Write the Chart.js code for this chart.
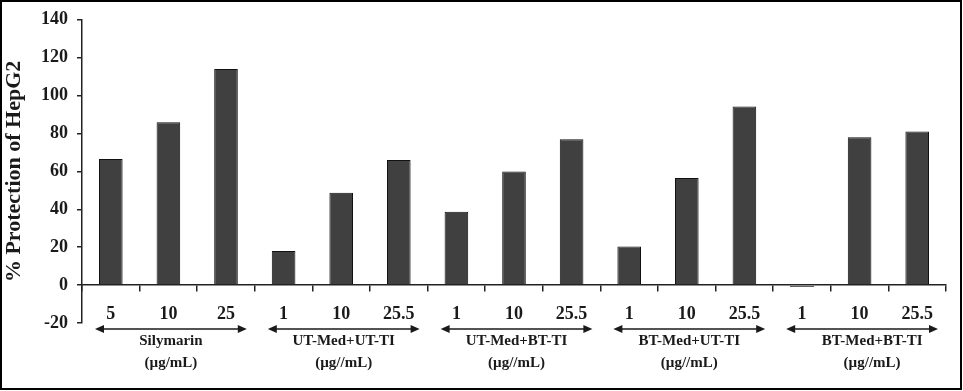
<!DOCTYPE html>
<html>
<head>
<meta charset="utf-8">
<script src="https://cdn.jsdelivr.net/npm/chart.js@4/dist/chart.umd.min.js"></script>
<style>
body { margin: 0; background: #fff; }
</style>
</head>
<body>
<canvas id="myChart" width="963" height="391"></canvas>
<script>
// doses for each bar, in order of the groups
const doses = ['5', '10', '25', '1', '10', '25.5', '1', '10', '25.5', '1', '10', '25.5', '1', '10', '25.5'];
// % protection of HepG2
const protection = [66.5, 86, 114, 18, 48.7, 66, 38.7, 60, 77, 20.4, 56.5, 94.3, -1, 78, 81];

// groups under the x axis
const groupNames = ['Silymarin', 'UT-Med+UT-TI', 'UT-Med+BT-TI', 'BT-Med+UT-TI', 'BT-Med+BT-TI'];
const groupUnits = ['(µg/mL)', '(µg//mL)', '(µg//mL)', '(µg//mL)', '(µg//mL)'];
const groupSizes = [3, 3, 3, 3, 3];

const yTicks = [-20, 0, 20, 40, 60, 80, 100, 120, 140];

const serif = '"Liberation Serif", "Times New Roman", serif';

// arrows + group names, plus the frame round the picture
const groupPlugin = {
    id: 'groups',
    afterDraw(chart) {
        const ctx = chart.ctx;
        const x = chart.scales.x;
        const half = (x.getPixelForValue(1) - x.getPixelForValue(0)) / 2;
        let start = 0;
        ctx.save();
        ctx.fillStyle = '#1a1a1a';
        ctx.strokeStyle = '#1a1a1a';
        groupSizes.forEach((n, i) => {
            const left = x.getPixelForValue(start) - half + 13;
            const right = x.getPixelForValue(start + n - 1) + half - 8;
            const ay = 329;
            ctx.lineWidth = 1.3;
            ctx.beginPath();
            ctx.moveTo(left + 6, ay);
            ctx.lineTo(right - 6, ay);
            ctx.stroke();
            // heads
            ctx.beginPath();
            ctx.moveTo(left, ay);
            ctx.lineTo(left + 9, ay - 4);
            ctx.lineTo(left + 9, ay + 4);
            ctx.closePath();
            ctx.fill();
            ctx.beginPath();
            ctx.moveTo(right, ay);
            ctx.lineTo(right - 9, ay - 4);
            ctx.lineTo(right - 9, ay + 4);
            ctx.closePath();
            ctx.fill();

            let cx = (left + right) / 2;
            if (i == groupSizes.length - 1) cx += 10;
            ctx.font = 'bold 15px ' + serif;
            ctx.textAlign = 'center';
            ctx.textBaseline = 'middle';
            ctx.fillText(groupNames[i], cx, 341);
            ctx.fillText(groupUnits[i], cx, 363);
            start += n;
        });
        ctx.lineWidth = 2;
        ctx.strokeStyle = '#000';
        ctx.strokeRect(1, 1, 960, 388);
        ctx.restore();
    }
};

const ctx = document.getElementById('myChart');
new Chart(ctx, {
    type: 'bar',
    data: {
        labels: doses,
        datasets: [{
            data: protection,
            backgroundColor: '#404040',
            borderColor: '#111',
            borderWidth: 1,
            barPercentage: 0.41,
            categoryPercentage: 1
        }]
    },
    options: {
        responsive: false,
        animation: false,
        layout: { padding: { top: 13, right: 17, left: 0, bottom: 68 } },
        plugins: { legend: { display: false }, tooltip: { enabled: false } },
        scales: {
            x: {
                position: { y: 0 },
                offset: true,
                afterFit: s => { s.height = 69; },
                border: { color: '#222', width: 1.5 },
                grid: { offset: true, drawOnChartArea: false, drawTicks: true, tickLength: 6, color: '#222', lineWidth: 1.5 },
                ticks: { color: '#1a1a1a', padding: 12, maxRotation: 0, font: { family: serif, size: 18, weight: 'bold' } }
            },
            y: {
                min: -20,
                max: 140,
                afterFit: s => { s.width = 82; },
                afterBuildTicks: s => { s.ticks = yTicks.map(v => ({ value: v })); },
                border: { color: '#222', width: 1.5 },
                grid: { drawOnChartArea: false, drawTicks: true, tickLength: 5, color: '#222', lineWidth: 1.5 },
                ticks: { color: '#1a1a1a', padding: 9, font: { family: serif, size: 18, weight: 'bold' } },
                title: {
                    display: true,
                    text: '% Protection of HepG2',
                    color: '#1a1a1a',
                    padding: { top: 1, bottom: 0 },
                    font: { family: serif, size: 22, weight: 'bold' }
                }
            }
        }
    },
    plugins: [groupPlugin]
});
</script>
</body>
</html>
